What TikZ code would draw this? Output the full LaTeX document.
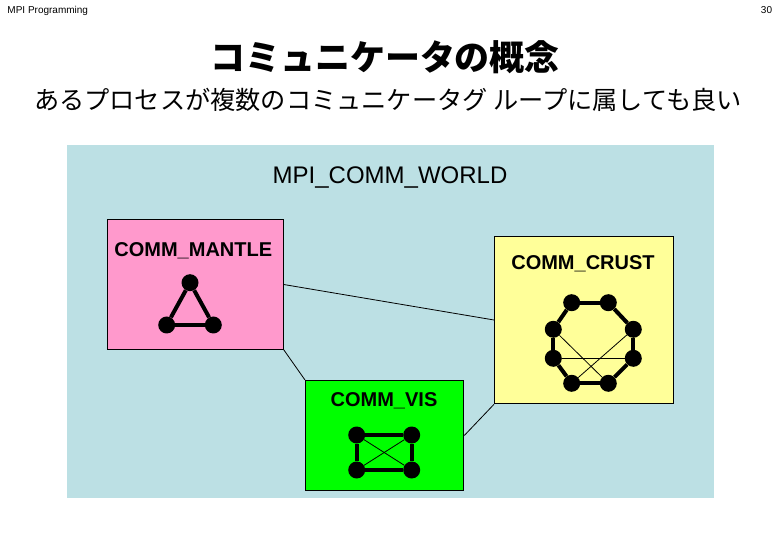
\documentclass[tikz,border=0pt]{standalone}
\usepackage{fontspec}
\setmainfont{Liberation Sans}
\newfontfamily\cjk{Noto Sans CJK JP}
\usetikzlibrary{positioning}
\definecolor{worldblue}{RGB}{188,224,228}
\definecolor{mantlepink}{RGB}{255,153,204}
\definecolor{crustyellow}{RGB}{255,255,153}
\definecolor{visgreen}{RGB}{0,255,0}
\tikzset{
  group/.style={draw, line width=1pt, inner sep=0pt, anchor=north west},
  grouplabel/.style={font=\bfseries\fontsize{20}{24}\selectfont, inner sep=0pt},
  proc/.style={circle, fill=black, minimum size=17pt, inner sep=0pt},
  link/.style={line width=4pt},
  cross/.style={line width=0.8pt},
  tie/.style={line width=0.8pt}
}

\begin{document}
\begin{tikzpicture}[x=1pt, y=-1pt]
\useasboundingbox (0,0) rectangle (780,540);
\node[font=\fontsize{10}{12}\selectfont, anchor=base west, inner sep=0pt] (head) at (7.3,14) {MPI Programming};
\node[font=\fontsize{10}{12}\selectfont, anchor=base east, inner sep=0pt] (page) at (772.3,14) {30};
\node[font=\cjk\bfseries\fontsize{35}{40}\selectfont, inner sep=0pt] (title) at (385,57) {コミュニケータの概念};
\node[font=\cjk\fontsize{25.2}{30}\selectfont, inner sep=0pt] (subtitle) at (388,100) {あるプロセスが複数のコミュニケータグ ループに属しても良い};

% groups
\node[group, draw=none, fill=worldblue, minimum width=647pt, minimum height=352pt] (world) at (66,145) {};
\node[font=\fontsize{24}{28}\selectfont, inner sep=0pt] (worldlabel) at (390,178) {MPI\_COMM\_WORLD};
\node[group, fill=mantlepink, minimum width=176pt, minimum height=129.4pt] (mantle) at (106.7,219.3) {};
\node[group, fill=crustyellow, minimum width=179.3pt, minimum height=167.6pt] (crust) at (494,235.7) {};
\node[group, fill=visgreen, minimum width=158.3pt, minimum height=110pt] (vis) at (305,380) {};

\draw[tie] (mantle.east) -- (crust.west);
\draw[tie] (mantle.south east) -- (vis.north west);
\draw[tie] (vis.east) -- (crust.south west);

\node[grouplabel] (mantlelabel) at (193.3,251) {COMM\_MANTLE};
\node[grouplabel] (crustlabel) at (583,263.3) {COMM\_CRUST};
\node[grouplabel] (vislabel) at (384,401) {COMM\_VIS};

% COMM_MANTLE
\node[proc] (m1) at (190,282.7) {};
\node[proc] (m2) at (213.3,325) {};
\node[proc] (m3) at (166.7,325) {};
\draw[link] (m1) -- (m2);
\draw[link] (m2) -- (m3);
\draw[link] (m3) -- (m1);

% COMM_CRUST
\node[proc] (c1) at (571.7,302.7) {};
\node[proc] (c2) at (608.3,302.7) {};
\node[proc] (c3) at (633.3,329.3) {};
\node[proc] (c4) at (633.3,358.3) {};
\node[proc] (c5) at (608.3,383.3) {};
\node[proc] (c6) at (571.7,383.3) {};
\node[proc] (c7) at (553.3,358.3) {};
\node[proc] (c8) at (553.3,329.3) {};
\draw[link] (c1) -- (c2);
\draw[link] (c2) -- (c3);
\draw[link] (c3) -- (c4);
\draw[link] (c4) -- (c5);
\draw[link] (c5) -- (c6);
\draw[link] (c6) -- (c7);
\draw[link] (c7) -- (c8);
\draw[link] (c8) -- (c1);
\draw[cross] (c8) -- (c5);
\draw[cross] (c3) -- (c6);
\draw[cross] (c7) -- (c4);

% COMM_VIS
\node[proc] (v1) at (356.7,435) {};
\node[proc] (v2) at (411.7,435) {};
\node[proc] (v3) at (411.7,470) {};
\node[proc] (v4) at (356.7,470) {};
\draw[link] (v1) -- (v2);
\draw[link] (v2) -- (v3);
\draw[link] (v3) -- (v4);
\draw[link] (v4) -- (v1);
\draw[cross] (v1) -- (v3);
\draw[cross] (v2) -- (v4);
\end{tikzpicture}
\end{document}
